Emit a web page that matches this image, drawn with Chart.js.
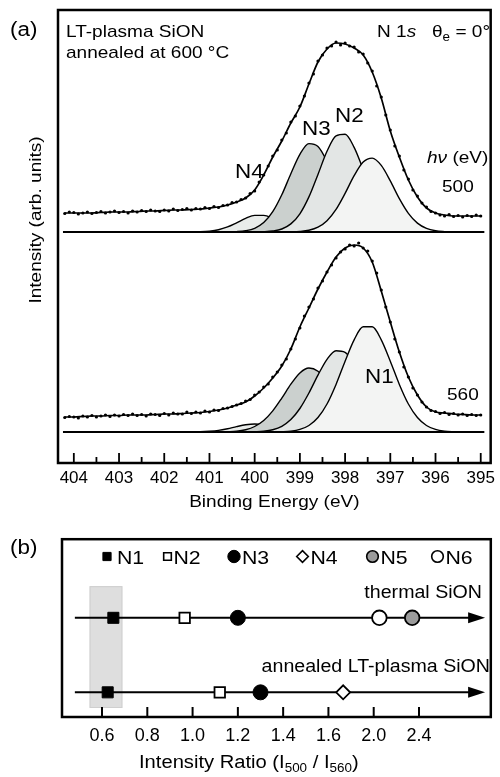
<!DOCTYPE html>
<html><head><meta charset="utf-8">
<script src="https://cdn.jsdelivr.net/npm/chart.js@4.4.1/dist/chart.umd.min.js"></script>
<style>
html,body{margin:0;padding:0;background:#fff;width:500px;height:777px;overflow:hidden}
#wa{position:absolute;left:0;top:0;width:500px;height:530px}
#wb{position:absolute;left:0;top:530px;width:500px;height:247px}
canvas{display:block}
</style></head><body>
<div id="wa"><canvas id="ca" width="500" height="530" style="width:500px;height:530px"></canvas></div>
<div id="wb"><canvas id="cb" width="500" height="247" style="width:500px;height:247px"></canvas></div>
<script>
// ================= DATA =================
// sampling grids (binding energy, eV) – regular steps of the measurement / fit
function sampleGrid(start, end, step){ const out=[]; const n=Math.round((start-end)/step); for(let i=0;i<=n;i++) out.push(+(start-i*step).toFixed(2)); return out; }

// fitted envelope (intensity above each spectrum's baseline, arb. units)
const fitEnergy = sampleGrid(404.2, 395.0, 0.2);
const fit500 = [19, 19,19,19,19.5,20,20,20,20.5,21,21, 21.5,22,22,22.5,23,24,25,27,30,34, 42,57,75,91,109,125,148,170,183,189, 188,184,177,160,134,101,75,52,35,24, 19,17,16,16,16,16];
const fit560 = [15, 15,15.5,16,16,16.5,16.5,17,17,17,17.5, 18,18,18.5,19,19.5,20.5,22,24,27,30, 36,44,54,66,83,105,124,143,160,175, 184,187,184,170,141,110,80,55,37,25, 20,19,18,17.5,17,17];

// measured points
const dataEnergy = sampleGrid(404.2, 395.0, 0.1);
const data500 = [18.5,20,
 19.5,18,19,20,18.5,19.5,20.5,19,20,21,
 19.5,20.5,19,21,20,21.5,20.5,22,21,20.5,
 22,21,23,21.5,22.5,23.5,22,23.5,23,24.5,
 23.5,25.5,24.5,26.5,27,29.5,30,32.5,34,38.5,
 41,50,57,66,76,82,92,99,110,116,
 126,136,149,158,171,177,184,186,190,187,
 189,186,185,180,178,169,161,146,135,117,
 102,86,76,62,53,42,36,29,25,20.5,
 19,17,16,17.5,15.5,16.5,15,16.5,15.5,17,
 16];
const data560 = [14.5,15.5,
 15,14,16,15,16.5,15,16,17,15.5,17,
 16,17.5,16.5,18,16.5,17.5,16,18,17.5,16.5,
 18.5,17,19,18,18,20,18.5,20,19,21,
 20,22,21.5,23.5,24,25.5,27,28.5,31,32.5,
 37,40,45,48,55,60,67,73,83,93,
 104,116,125,133,144,151,160,167,174,180,
 183,187,186,189,184,181,171,159,142,125,
 110,93,80,65,55,44,37,30,25,21.5,
 20.5,18.5,19.5,17.5,18.5,17,18,16.5,17.5,16.5,
 17];

// fitted components N1..N4
const compEnergy = sampleGrid(401.4, 395.4, 0.2);
const n1_500 = [0,0,0,0,0,0,0,0,0,0, 0,0.1,0.5,1.7,4.8,11.3,22.6,38.6,56.3,69.9, 73.9,66.6,51.1,33.4,18.7,8.9,3.6,1.2,0.4,0.1, 0];
const n2_500 = [0,0,0,0,0,0,0,0.1,0.3,1.0, 3.0,8.1,18.2,35.1,57.6,80.7,96.2,97.7,84.6,62.5, 39.3,21.0,9.6,3.7,1.2,0.4,0.1,0,0,0, 0];
const n3_500 = [0,0,0,0,0.1,0.4,1.3,3.7,9.4,20.3, 37.2,58.3,77.7,88.4,85.6,70.6,49.7,29.8,15.2,6.6, 2.5,0.8,0.2,0,0,0,0,0,0,0, 0];
const n4_500 = [0.1,0.3,0.9,2.3,5.1,9.2,13.6,16.6,16.6,13.6, 9.2,5.1,2.3,0.9,0.3,0.1,0,0,0,0, 0,0,0,0,0,0,0,0,0,0, 0];
const n1_560 = [0,0,0,0,0,0,0,0,0,0, 0.3,0.9,2.6,6.5,14.5,28.0,47.6,70.8,92.2,105.2, 105.2,92.2,70.8,47.6,28.0,14.5,6.5,2.6,0.9,0.3, 0];
const n2_560 = [0,0,0,0,0,0,0,0.3,0.8,2.3, 5.7,12.4,23.5,39.0,56.9,72.7,81.3,79.7,68.5,51.6, 34.0,19.6,9.9,4.4,1.7,0.6,0.2,0,0,0, 0];
const n3_560 = [0,0,0,0,0.3,0.8,2.3,5.5,11.5,21.1, 33.9,47.8,59.1,64.0,60.7,50.4,36.7,23.4,13.1,6.4, 2.7,1.0,0.3,0,0,0,0,0,0,0, 0];
const n4_560 = [0.1,0.2,0.7,1.6,3.3,5.4,7.2,8.0,7.2,5.4, 3.3,1.6,0.7,0.2,0.1,0,0,0,0,0, 0,0,0,0,0,0,0,0,0,0, 0];

// panel (b): intensity ratios I500/I560
const speciesNames = ['N1','N2','N3','N4','N5','N6'];
const rowNames = ['thermal SiON','annealed LT-plasma SiON'];
const ratioThermal  = [0.65, 0.965, 1.20, null, 2.34, 2.05];
const ratioAnnealed = [0.625, 1.12, 1.30, 1.73, null, null];
const shadedRange = [0.545, 0.69];
const tickRatios = [0.6, 0.8, 1.0, 1.2, 1.4, 1.6, 2.0, 2.4];
const tickLabels = ['0.6','0.8','1.0','1.2','1.4','1.6','2.0','2.4'];

// ================= STYLE / LAYOUT =================
const FONT = '"Liberation Sans", Arial, Helvetica, sans-serif';
const STRETCH = 1.12;
const OFFSET_500 = 200;          // vertical stacking offset of the 500 eV spectrum
const BASE_FROM = 404.24, BASE_TO = 394.92;
const compFill = ['#f3f4f3','#e3e6e5','#cbd0ce','#e9ecea'];
const ROW_LEVEL = [1, 0];
const ARROW_FROM = -0.60, ARROW_TIP = 8.46;
const markerStyles = [
  {pointStyle:'rect',    radius:7.8, bg:'#000', bw:1},
  {pointStyle:'rect',    radius:7.4, bg:'#fff', bw:1.8},
  {pointStyle:'circle',  radius:7.5, bg:'#000', bw:1},
  {pointStyle:'rectRot', radius:7.0, bg:'#fff', bw:1.8},
  {pointStyle:'circle',  radius:7.3, bg:'#9b9b9b', bw:1.8},
  {pointStyle:'circle',  radius:7.3, bg:'#fff', bw:1.8}
];

Chart.defaults.font.family = FONT;
Chart.defaults.color = '#000';

// ---------- text helpers ----------
function fontOf(r){ return (r.italic?'italic ':'') + (r.size||17) + 'px ' + FONT; }
function runsWidth(ctx, runs, st){ let w=0; for(const r of runs){ ctx.font=fontOf(r); w += ctx.measureText(r.t).width*st; } return w; }
function drawRuns(ctx, runs, x, y, align, st){
  st = st || STRETCH;
  const w = runsWidth(ctx, runs, st);
  let cx = align==='right' ? x-w : align==='center' ? x-w/2 : x;
  for(const r of runs){
    ctx.save(); ctx.font=fontOf(r); ctx.fillStyle='#000'; ctx.textAlign='left'; ctx.textBaseline='alphabetic';
    const rw = ctx.measureText(r.t).width*st;
    ctx.translate(cx, y+(r.dy||0)); ctx.scale(st,1); ctx.fillText(r.t,0,0); ctx.restore();
    cx += rw;
  }
}
const T = (t, size, extra) => Object.assign({t, size}, extra||{});

// ================= PANEL (a) =================
const pts = (xs, ys, off) => ys.map((v,i)=>({x:xs[i], y:v+off}));
function compDs(xs, ys, off, color){
  return {data:pts(xs,ys,off), borderColor:'#000', borderWidth:1.4, backgroundColor:color,
          fill:{value:off}, pointRadius:0, cubicInterpolationMode:'monotone'};
}
const dsA = [
  {data:pts(dataEnergy,data500,OFFSET_500), showLine:false, pointRadius:1.6, pointBackgroundColor:'#000', pointBorderWidth:0},
  {data:pts(dataEnergy,data560,0), showLine:false, pointRadius:1.6, pointBackgroundColor:'#000', pointBorderWidth:0},
  {data:pts(fitEnergy,fit500,OFFSET_500), borderColor:'#000', borderWidth:1.7, pointRadius:0, cubicInterpolationMode:'monotone', fill:false},
  {data:pts(fitEnergy,fit560,0), borderColor:'#000', borderWidth:1.7, pointRadius:0, cubicInterpolationMode:'monotone', fill:false},
  {data:[{x:BASE_FROM,y:OFFSET_500},{x:BASE_TO,y:OFFSET_500}], borderColor:'#000', borderWidth:1.8, pointRadius:0, fill:false},
  {data:[{x:BASE_FROM,y:0},{x:BASE_TO,y:0}], borderColor:'#000', borderWidth:1.8, pointRadius:0, fill:false},
  compDs(compEnergy,n1_500,OFFSET_500,compFill[0]),
  compDs(compEnergy,n2_500,OFFSET_500,compFill[1]),
  compDs(compEnergy,n3_500,OFFSET_500,compFill[2]),
  compDs(compEnergy,n4_500,OFFSET_500,compFill[3]),
  compDs(compEnergy,n1_560,0,compFill[0]),
  compDs(compEnergy,n2_560,0,compFill[1]),
  compDs(compEnergy,n3_560,0,compFill[2]),
  compDs(compEnergy,n4_560,0,compFill[3])
];

const decorA = {
  id:'decorA',
  afterDraw(chart){
    const ctx=chart.ctx, a=chart.chartArea, xs=chart.scales.x;
    ctx.save();
    ctx.strokeStyle='#000'; ctx.lineWidth=2.5;
    ctx.strokeRect(a.left, a.top, a.right-a.left, a.bottom-a.top);
    ctx.lineWidth=1.8;
    for(const t of xs.ticks){
      const p=xs.getPixelForValue(t.value);
      ctx.beginPath(); ctx.moveTo(p,a.bottom); ctx.lineTo(p,a.bottom-10); ctx.stroke();
      const m=t.value+0.5;
      if(m<xs.max){ const q=xs.getPixelForValue(m); ctx.beginPath(); ctx.moveTo(q,a.bottom); ctx.lineTo(q,a.bottom-6); ctx.stroke(); }
    }
    ctx.restore();
    drawRuns(ctx,[T('(a)',20)],10,36,'left');
    drawRuns(ctx,[T('LT-plasma SiON',17)],66,37,'left');
    drawRuns(ctx,[T('annealed at 600 °C',17)],66,58,'left');
    drawRuns(ctx,[T('N 1',17),T('s',17,{italic:true}),T('   θ',17),T('e',12,{dy:4}),T(' = 0°',17)],490,37,'right');
    drawRuns(ctx,[T('N4',20)],235,178,'left');
    drawRuns(ctx,[T('N3',20)],302,135,'left');
    drawRuns(ctx,[T('N2',20)],335,122,'left');
    drawRuns(ctx,[T('N1',20)],365,383,'left');
    drawRuns(ctx,[T('hν',17,{italic:true}),T(' (eV)',17)],427,163,'left');
    drawRuns(ctx,[T('500',17)],442,192,'left');
    drawRuns(ctx,[T('560',17)],447,400,'left');
    drawRuns(ctx,[T('Binding Energy (eV)',17)],(a.left+a.right)/2,507,'center');
    ctx.save(); ctx.translate(41,220); ctx.rotate(-Math.PI/2);
    drawRuns(ctx,[T('Intensity (arb. units)',17)],0,0,'center');
    ctx.restore();
  }
};

new Chart(document.getElementById('ca'),{
  type:'line',
  data:{datasets:dsA},
  options:{
    responsive:false, animation:false, devicePixelRatio:1,
    layout:{padding:{left:58,right:3,top:10,bottom:0}},
    plugins:{legend:{display:false}, tooltip:{enabled:false}},
    scales:{
      x:{type:'linear', reverse:true, min:394.78, max:404.35,
         afterFit(s){ s.height=67; },
         grid:{display:false, drawTicks:false}, border:{display:false},
         ticks:{stepSize:1, includeBounds:false, autoSkip:false, maxRotation:0, padding:5, color:'#000', font:{size:17}}},
      y:{type:'linear', display:false, min:-31, max:422}
    }
  },
  plugins:[decorA]
});

// ================= PANEL (b) =================
function toAxis(v){
  let i=0;
  while(i<tickRatios.length-2 && v>tickRatios[i+1]) i++;
  return i + (v-tickRatios[i])/(tickRatios[i+1]-tickRatios[i]);
}
const dsB = speciesNames.map((name,k)=>{
  const s=markerStyles[k];
  const d=[];
  if(ratioThermal[k]!=null) d.push({x:toAxis(ratioThermal[k]), y:ROW_LEVEL[0]});
  if(ratioAnnealed[k]!=null) d.push({x:toAxis(ratioAnnealed[k]), y:ROW_LEVEL[1]});
  return {label:name, data:d, showLine:false, pointStyle:s.pointStyle, pointRadius:s.radius,
          pointBackgroundColor:s.bg, pointBorderColor:'#000', pointBorderWidth:s.bw};
});
ROW_LEVEL.forEach(lv=>{
  dsB.push({data:[{x:ARROW_FROM,y:lv},{x:ARROW_TIP-0.2,y:lv}], showLine:true, borderColor:'#000', borderWidth:2, pointRadius:0});
});

const decorB = {
  id:'decorB',
  beforeDatasetsDraw(chart){
    const ctx=chart.ctx, xs=chart.scales.x, ys=chart.scales.y;
    const x0=xs.getPixelForValue(toAxis(shadedRange[0])), x1=xs.getPixelForValue(toAxis(shadedRange[1]));
    const y0=ys.getPixelForValue(1.425), y1=ys.getPixelForValue(-0.21);
    ctx.save(); ctx.fillStyle='#dedede'; ctx.fillRect(x0,y0,x1-x0,y1-y0);
    ctx.strokeStyle='#cfcfcf'; ctx.lineWidth=1; ctx.strokeRect(x0+0.5,y0+0.5,x1-x0-1,y1-y0-1); ctx.restore();
  },
  afterDatasetsDraw(chart){
    const ctx=chart.ctx, xs=chart.scales.x, ys=chart.scales.y;
    ctx.save(); ctx.fillStyle='#000';
    ROW_LEVEL.forEach(lv=>{
      const tip=xs.getPixelForValue(ARROW_TIP), y=ys.getPixelForValue(lv);
      ctx.beginPath(); ctx.moveTo(tip,y); ctx.lineTo(tip-17,y-5.5); ctx.lineTo(tip-17,y+5.5); ctx.closePath(); ctx.fill();
    });
    ctx.restore();
  },
  afterDraw(chart){
    const ctx=chart.ctx, a=chart.chartArea, xs=chart.scales.x;
    ctx.save();
    ctx.strokeStyle='#000'; ctx.lineWidth=2.5;
    ctx.strokeRect(a.left,a.top,a.right-a.left,a.bottom-a.top);
    ctx.lineWidth=2;
    for(const t of xs.ticks){ const p=xs.getPixelForValue(t.value); ctx.beginPath(); ctx.moveTo(p,a.bottom); ctx.lineTo(p,a.bottom-10); ctx.stroke(); }
    ctx.restore();
    drawRuns(ctx,[T('(b)',20)],10,24,'left');
    // legend
    const legX=[107,167.5,234,302.5,372.5,437.5], legY=26.5;
    const legR=[5.8,5.4,6.2,5.8,5.8,5.8];
    const legTextDx=[10,6,8,8,8,8];
    speciesNames.forEach((name,k)=>{
      const s=markerStyles[k];
      ctx.save();
      ctx.fillStyle=s.bg; ctx.strokeStyle='#000'; ctx.lineWidth=Math.min(s.bw,1.6);
      Chart.helpers.drawPoint(ctx,{pointStyle:s.pointStyle, radius:legR[k], rotation:0, borderWidth:ctx.lineWidth}, legX[k], legY);
      ctx.restore();
      drawRuns(ctx,[T(name,19)],legX[k]+legTextDx[k],34,'left');
    });
    drawRuns(ctx,[T(rowNames[0],17.5)],482,68,'right');
    drawRuns(ctx,[T(rowNames[1],17.5)],490,142,'right');
    drawRuns(ctx,[T('Intensity Ratio (I',18),T('500',12,{dy:4}),T(' / I',18),T('560',12,{dy:4}),T(')',18)],139,238,'left');
  }
};

new Chart(document.getElementById('cb'),{
  type:'scatter',
  data:{datasets:dsB},
  options:{
    responsive:false, animation:false, devicePixelRatio:1,
    layout:{padding:{left:62,right:2,top:9,bottom:0}},
    plugins:{legend:{display:false}, tooltip:{enabled:false}},
    scales:{
      x:{type:'linear', min:-0.884, max:8.586,
         afterFit(s){ s.height=60; },
         afterBuildTicks(s){ s.ticks = tickRatios.map(r=>({value:toAxis(r)})); },
         grid:{display:false, drawTicks:false}, border:{display:false},
         ticks:{autoSkip:false, maxRotation:0, padding:8, color:'#000', font:{size:18}, callback:(v,i)=>tickLabels[i]}},
      y:{type:'linear', display:false, min:-0.331, max:2.055}
    }
  },
  plugins:[decorB]
});
</script></body></html>
